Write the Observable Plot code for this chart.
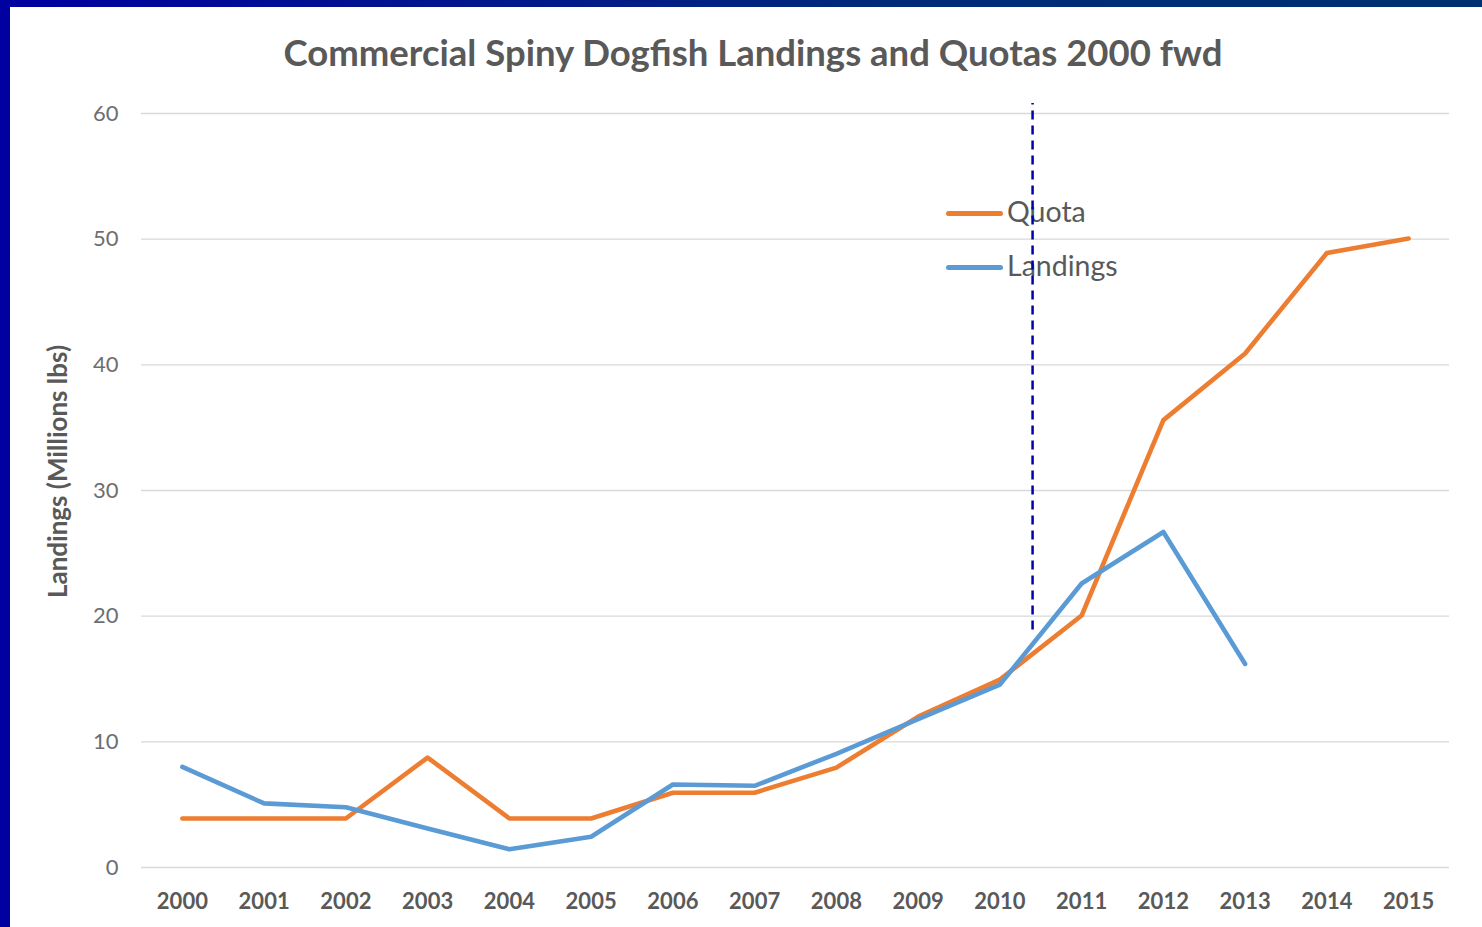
<!DOCTYPE html>
<html>
<head>
<meta charset="utf-8">
<script src="https://cdn.jsdelivr.net/npm/d3@7"></script>
<script src="https://cdn.jsdelivr.net/npm/@observablehq/plot@0.6"></script>
<style>
  html, body { margin: 0; padding: 0; background: #fff; }
  #page { position: relative; width: 1482px; height: 927px; overflow: hidden;
    background: linear-gradient(90deg, #0000a0 0%, #002a7a 60%, #003070 100%); }
  #inner { position: absolute; left: 10px; top: 7px; width: 1472px; height: 920px; background: #fff; }
  #title { position: absolute; left: 253px; width: 1000px; top: 30px; text-align: center;
    font-family: Lato, sans-serif; font-weight: 700; font-size: 36.5px; color: #595959; white-space: nowrap; }
  .leg { position: absolute; font-family: Lato, sans-serif; font-size: 28.5px; color: #595959; line-height: 1; }
  .sw { position: absolute; width: 57px; height: 5px; border-radius: 2.5px; }
  #chart { position: absolute; left: 10px; top: 7px; }
</style>
</head>
<body>
<div id="page">
  <div id="inner"></div>
  <div id="title">Commercial Spiny Dogfish Landings and Quotas 2000 fwd</div>
  <div id="legend"></div>
  <div id="chart"></div>
</div>
<script>
const years    = [2000, 2001, 2002, 2003, 2004, 2005, 2006, 2007, 2008, 2009, 2010, 2011, 2012, 2013, 2014, 2015];
const quota    = [3.9, 3.9, 3.9, 8.75, 3.9, 3.9, 5.95, 5.95, 7.95, 12.0, 14.95, 20.05, 35.6, 40.9, 48.9, 50.05];
const landings = [8.0, 5.1, 4.8, 3.1, 1.45, 2.45, 6.6, 6.5, 9.05, 11.8, 14.55, 22.6, 26.7, 16.2, null, null];
const yTicks   = [0, 10, 20, 30, 40, 50, 60];
const seriesNames  = ["Quota", "Landings"];
const seriesColors = ["#ed7d31", "#5b9bd5"];
const divider  = [{year: 2010.4, from: 18.9, to: 60.8}];

const rows = [];
years.forEach((yr, i) => {
  rows.push({year: yr, value: quota[i], series: "Quota"});
  if (landings[i] != null) rows.push({year: yr, value: landings[i], series: "Landings"});
});

const W = 1472, H = 920;
const chart = Plot.plot({
  width: W, height: H,
  marginLeft: 131, marginRight: 33, marginTop: 106, marginBottom: 60,
  style: {background: "transparent", fontFamily: "Lato, sans-serif", overflow: "visible"},
  x: {domain: [1999.5, 2015.5], ticks: years, tickFormat: d => String(d), tickSize: 0, tickPadding: 26, label: null},
  y: {domain: [0, 60], ticks: yTicks, tickSize: 0, tickPadding: 23, label: null},
  color: {domain: seriesNames, range: seriesColors},
  marks: [
    Plot.gridY(yTicks, {stroke: "#d9d9d9", strokeOpacity: 1, strokeWidth: 1.3}),
    Plot.axisY({ticks: yTicks, tickSize: 0, tickPadding: 23, fontSize: 22, fill: "#6e6e6e", label: null}),
    Plot.axisX({ticks: years, tickFormat: d => String(d), tickSize: 0, tickPadding: 26, fontSize: 22, fontWeight: 700, fill: "#595959", label: null}),
    Plot.line(rows, {x: "year", y: "value", z: "series", stroke: "series", strokeWidth: 4.6, strokeLinejoin: "round", strokeLinecap: "round"}),
    Plot.ruleX(divider, {x: "year", y1: "from", y2: "to", stroke: "#0000a8", strokeWidth: 2.5, strokeDasharray: "9,6"}),
    Plot.text(["Landings (Millions lbs)"], {frameAnchor: "left", text: d => d, rotate: -90, textAnchor: "middle", dx: -83, dy: -19,
      fontSize: 26, fontWeight: 700, fill: "#595959"})
  ]
});
document.getElementById("chart").appendChild(chart);

// legend (HTML, placed underneath the chart so the divider draws over it)
const legend = document.getElementById("legend");
const legendY = [213, 267];
seriesNames.forEach((name, i) => {
  const sw = document.createElement("div");
  sw.className = "sw";
  sw.style.left = "946px";
  sw.style.top = (legendY[i] - 2.5) + "px";
  sw.style.background = seriesColors[i];
  legend.appendChild(sw);
  const t = document.createElement("div");
  t.className = "leg";
  t.style.left = "1007px";
  t.style.top = (legendY[i] - 16) + "px";
  t.textContent = name;
  legend.appendChild(t);
});
</script>
</body>
</html>
